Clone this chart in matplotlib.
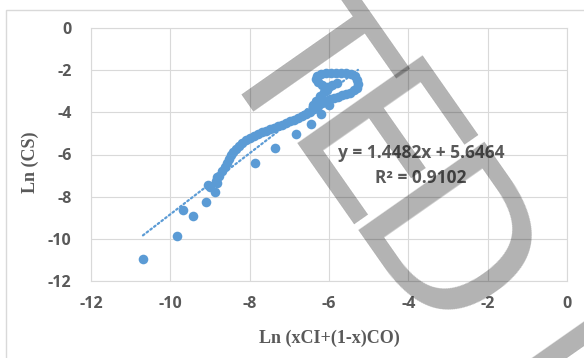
import numpy as np
import matplotlib
matplotlib.use("Agg")
import matplotlib.pyplot as plt
from matplotlib.patches import Rectangle
from matplotlib.textpath import TextPath
from matplotlib.font_manager import FontProperties

plt.rcParams["axes.unicode_minus"] = False

# isolated points (lower tail and points under the band)
x_pts = [-10.69, -9.83, -9.68, -9.43, -9.10, -8.87, -9.00, -9.05, -8.82, -8.82,
         -7.87, -7.36, -6.83, -6.45, -6.20, -6.00]
y_pts = [-10.96, -9.87, -8.63, -8.92, -8.25, -7.78, -7.54, -7.45, -7.35, -7.07,
         -6.40, -5.69, -5.03, -4.55, -4.08, -3.65]

# dense band running up to the loop (lower strand, loop, hook)
x_band = [-8.85, -8.77, -8.70, -8.62, -8.57, -8.52, -8.47, -8.42, -8.34, -8.27,
          -8.19, -8.09, -7.99, -7.89, -7.79, -7.69, -7.59, -7.49, -7.39, -7.29,
          -7.19, -7.08, -6.98, -6.88, -6.78, -6.68, -6.58, -6.48, -6.38, -6.28,
          -6.18, -6.08, -5.97, -5.87, -5.77, -5.67, -5.57, -5.47, -5.37, -5.30,
          -5.27, -5.29, -5.35, -5.45, -5.57, -5.70, -5.82, -5.95, -6.08, -6.20,
          -6.30, -6.33, -6.27, -6.17, -6.05, -5.93, -5.80]
y_band = [-7.26, -7.02, -6.78, -6.59, -6.40, -6.21, -6.02, -5.88, -5.74, -5.60,
          -5.46, -5.31, -5.22, -5.12, -5.03, -4.93, -4.89, -4.79, -4.74, -4.65,
          -4.60, -4.51, -4.41, -4.36, -4.27, -4.17, -4.08, -3.98, -3.84, -3.70,
          -3.56, -3.46, -3.37, -3.32, -3.27, -3.20, -3.13, -3.06, -2.96, -2.83,
          -2.65, -2.45, -2.30, -2.20, -2.15, -2.14, -2.14, -2.14, -2.15, -2.18,
          -2.27, -2.42, -2.58, -2.72, -2.80, -2.72, -2.62]

# upper strand coming back down from the hook
x_back = [-6.05, -6.13, -6.22, -6.32, -6.40]
y_back = [-2.95, -3.05, -3.22, -3.45, -3.65]

slope, intercept, r2 = 1.4482, 5.6464, 0.9102

blue = "#5b9bd5"
grey_txt = "#595959"
grid_c = "#d9d9d9"

W, H = 584, 358
fig = plt.figure(figsize=(W/100, H/100), dpi=100)
ax = fig.add_axes([91/W, 1-281/H, 476/W, 253/H])

xs = x_pts + x_band + x_back
ys = y_pts + y_band + y_back
ax.scatter(xs, ys, s=48, color=blue, linewidths=0, zorder=3)

x0, x1 = min(xs), max(xs)
ax.plot([x0, x1], [slope*x0 + intercept, slope*x1 + intercept], color=blue,
        lw=1.6, linestyle=(0, (0.8, 1.3)), dash_capstyle="round", zorder=4)

ax.set_xlim(-12, 0)
ax.set_ylim(-12, 0)
ax.set_xticks(range(-12, 1, 2))
ax.set_yticks(range(-12, 1, 2))
ax.grid(True, color=grid_c, lw=0.8)
ax.set_axisbelow(True)
for s in ax.spines.values():
    s.set_color(grid_c)
    s.set_linewidth(0.8)
ax.tick_params(length=0, labelcolor=grey_txt, labelsize=11.5)
ax.tick_params(axis="x", pad=11)
ax.tick_params(axis="y", pad=14)
for lab in ax.get_xticklabels() + ax.get_yticklabels():
    lab.set_fontfamily("Open Sans")
    lab.set_fontweight("bold")

fig.text(329/W, 1-338/H, "Ln (xCI+(1-x)CO)", ha="center", va="center",
         family="Liberation Serif", weight="bold", size=13, color=grey_txt)
fig.text(30/W, 1-162/H, "Ln (CS)", ha="center", va="center", rotation=90,
         family="Liberation Serif", weight="bold", size=13, color=grey_txt)

ax.text(-3.68, -5.93, f"y = {slope}x + {intercept}", ha="center", va="center",
        family="Open Sans", weight="bold", size=12.5, color=grey_txt, zorder=5)
ax.text(-3.68, -7.12, f"R² = {r2}", ha="center", va="center",
        family="Open Sans", weight="bold", size=12.5, color=grey_txt, zorder=5)

# chart border
fig.patches.append(Rectangle((6/W, -0.2), 2, 1.2 - 10/H, transform=fig.transFigure,
                             fill=False, edgecolor=grid_c, lw=1))

# "ACCEPTED MANUSCRIPT" stamp, partly visible; letters placed by their ink centre
stamp_fp = FontProperties(family=["Liberation Sans Narrow", "DejaVu Sans"])
stamp_size = 152
ang = -55
th = np.deg2rad(ang)
for ch, px, py in [("T", 310, 58), ("E", 379, 155), ("D", 448, 255), ("M", 624, 389)]:
    ext = TextPath((0, 0), ch, size=stamp_size, prop=stamp_fp).get_extents()
    cx = (ext.x0 + ext.x1) / 2 * 100 / 72
    cy = (ext.y0 + ext.y1) / 2 * 100 / 72
    ox = cx*np.cos(th) - cy*np.sin(th)
    oy = cx*np.sin(th) + cy*np.cos(th)
    X = px - ox
    Y = (H - py) - oy
    fig.text(X/W, Y/H, ch, ha="left", va="baseline", rotation=ang,
             rotation_mode="anchor", fontproperties=stamp_fp, size=stamp_size,
             color="black", alpha=0.3, zorder=10)

fig.savefig("out.png", dpi=100)
